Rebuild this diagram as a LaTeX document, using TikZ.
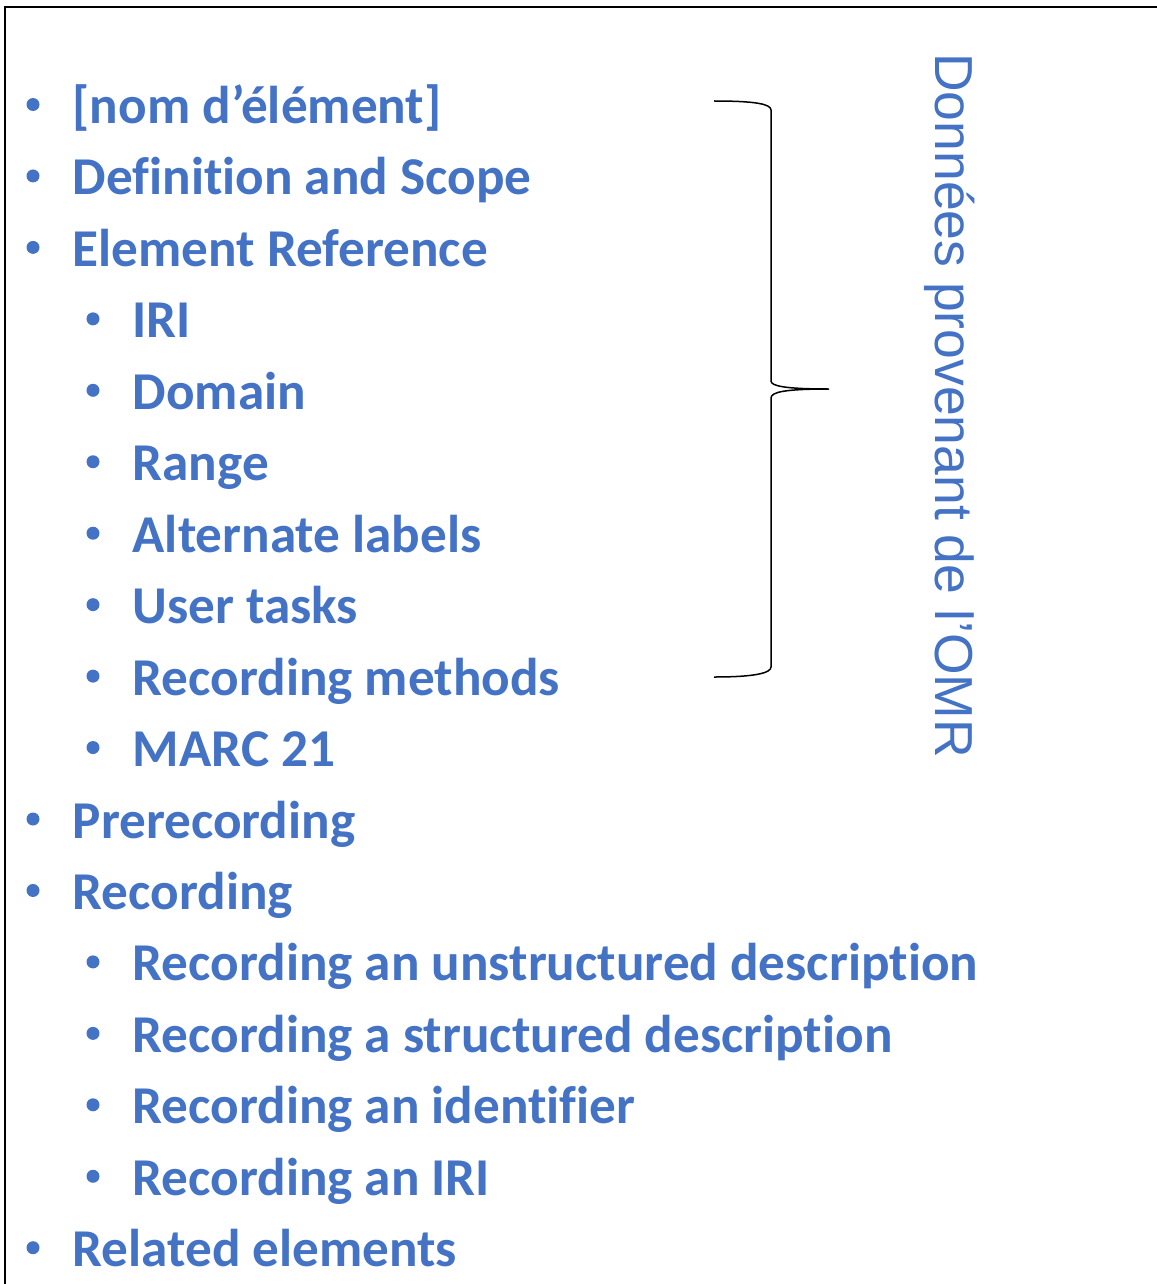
\documentclass[tikz,border=0pt]{standalone}
\usepackage{fontspec}
\setmainfont[Ligatures=NoCommon]{Carlito}
\newfontfamily\arialfont{Liberation Sans}
\definecolor{itemblue}{HTML}{4472C4}
\tikzset{
  itemtext/.style={anchor=base west, inner sep=0pt, text=itemblue, font=\fontsize{53.2}{60}\selectfont\bfseries},
  bulletdot/.style={circle, fill=itemblue, inner sep=0pt, minimum size=13pt},
  sidetext/.style={rotate=-90, anchor=base west, inner sep=0pt, text=itemblue, font=\arialfont\fontsize{53.5}{60}\selectfont},
  bracepath/.style={draw=black, line width=1.5pt},
  framepath/.style={draw=black, line width=2pt}
}
\begin{document}
\begin{tikzpicture}[x=1pt,y=1pt]
\useasboundingbox (0,0) rectangle (1156,-1284);
\draw[framepath] (1170,-7.5) -- (4.5,-7.5) -- (4.5,-1300);
% list items
\foreach \i/\lvl/\txt in {
  1/1/{[nom d’élément]},
  2/1/{Definition and Scope},
  3/1/{Element Reference},
  4/2/{IRI},
  5/2/{Domain},
  6/2/{Range},
  7/2/{Alternate labels},
  8/2/{User tasks},
  9/2/{Recording methods},
  10/2/{MARC 21},
  11/1/{Prerecording},
  12/1/{Recording},
  13/2/{Recording an unstructured description},
  14/2/{Recording a structured description},
  15/2/{Recording an identifier},
  16/2/{Recording an IRI},
  17/1/{Related elements}}{
  \pgfmathsetmacro{\by}{-(123.5+71.45*(\i-1))}
  \pgfmathsetmacro{\tx}{\lvl==1 ? 72.5 : 132.5}
  \pgfmathsetmacro{\bx}{\lvl==1 ? 33 : 93}
  \node[bulletdot] (b\i) at (\bx,\by+19) {};
  \node[itemtext] (t\i) at (\tx,\by) {\txt};
}
% brace
\coordinate (bt) at (714,-101);
\coordinate (bm) at (829,-389);
\coordinate (bb) at (714,-677);
\draw[bracepath] (bt) .. controls (755,-101) and (771,-104) .. (771,-110)
  -- (771,-381) .. controls (771,-386) and (785,-389) .. (bm)
  .. controls (785,-389) and (771,-392) .. (771,-398)
  -- (771,-667) .. controls (771,-673) and (755,-677) .. (bb);
% side label
\node[sidetext] (side) at (935,-53) {Données provenant de l’OMR};
\end{tikzpicture}
\end{document}
